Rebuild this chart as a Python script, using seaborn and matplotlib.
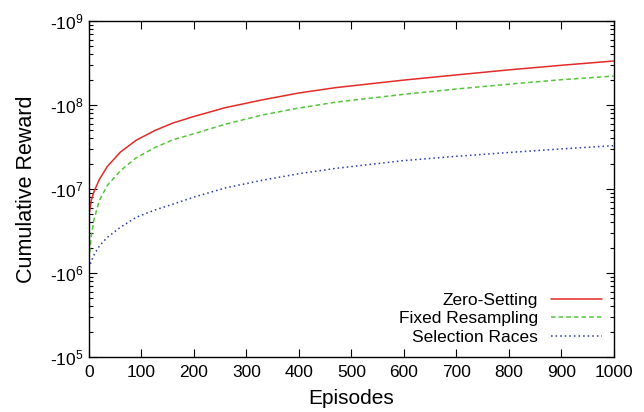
import matplotlib
matplotlib.use("Agg")
import matplotlib.pyplot as plt
import matplotlib.ticker as mticker
import numpy as np
import pandas as pd
import seaborn as sns

episodes = [0, 5, 10, 20, 35, 60, 90, 125, 160, 200, 260, 330, 400, 470, 600, 700, 800, 900, 1000]
zero_setting = [4.9e6, 7.5e6, 9.4e6, 1.3e7, 1.85e7, 2.75e7, 3.8e7, 4.95e7, 6.1e7, 7.3e7,
                9.3e7, 1.15e8, 1.39e8, 1.61e8, 1.98e8, 2.28e8, 2.62e8, 2.97e8, 3.34e8]
fixed_resampling = [1.43e6, 2.9e6, 4.4e6, 7.3e6, 1.1e7, 1.65e7, 2.35e7, 3.1e7, 3.85e7, 4.55e7,
                    5.9e7, 7.6e7, 9.2e7, 1.08e8, 1.34e8, 1.55e8, 1.77e8, 2.0e8, 2.21e8]
selection_races = [1.14e6, 1.4e6, 1.65e6, 2.1e6, 2.65e6, 3.5e6, 4.6e6, 5.6e6, 6.6e6, 8.0e6,
                   1.03e7, 1.27e7, 1.52e7, 1.76e7, 2.18e7, 2.45e7, 2.72e7, 3.0e7, 3.28e7]
series_names = ["Zero-Setting", "Fixed Resampling", "Selection Races"]

sns.set_theme(style="ticks")
plt.rcParams["font.family"] = ["Liberation Sans", "DejaVu Sans"]
plt.rcParams["mathtext.fontset"] = "custom"
plt.rcParams["mathtext.rm"] = "Liberation Sans"
plt.rcParams["mathtext.it"] = "Liberation Sans"
plt.rcParams["text.color"] = "black"
plt.rcParams["axes.labelcolor"] = "black"

# Magnitudes of the (negative) cumulative reward, drawn on a log axis
df = pd.DataFrame({
    "Episodes": episodes * 3,
    "Reward": zero_setting + fixed_resampling + selection_races,
    "Method": sum([[n] * len(episodes) for n in series_names], []),
})

palette = {"Zero-Setting": "#e32b28", "Fixed Resampling": "#55c63c", "Selection Races": "#2a3aa8"}
dashes = {"Zero-Setting": "", "Fixed Resampling": (3, 2), "Selection Races": (1, 2)}

fig = plt.figure(figsize=(6.44, 4.12), dpi=100)
ax = fig.add_axes([0.138, 0.1335, 0.815, 0.8155])

sns.lineplot(data=df, x="Episodes", y="Reward", hue="Method", style="Method",
             palette=palette, dashes=dashes, linewidth=1.1, ax=ax)

ax.set_yscale("log")
ax.set_ylim(1e5, 1e9)
ax.set_xlim(0, 1000)
ax.set_xticks(np.arange(0, 1001, 100))
ax.yaxis.set_major_locator(mticker.LogLocator(base=10, numticks=10))
ax.yaxis.set_minor_locator(mticker.LogLocator(base=10, subs=np.arange(2, 10), numticks=20))
ax.yaxis.set_major_formatter(mticker.FuncFormatter(
    lambda v, p: r"-10$^{%d}$" % int(round(np.log10(v)))))
ax.yaxis.set_minor_formatter(mticker.NullFormatter())

for s in ax.spines.values():
    s.set_visible(True)
    s.set_linewidth(1.0)
    s.set_color("black")

ax.tick_params(axis="both", which="both", direction="in", top=True, right=True,
               colors="black", labelsize=12.5)
ax.tick_params(which="major", length=6, width=0.8)
ax.tick_params(which="minor", length=3, width=0.8)
ax.tick_params(axis="x", pad=6)
ax.tick_params(axis="y", pad=4)

ax.set_xlabel("Episodes", fontsize=15, labelpad=6)
ax.set_ylabel("Cumulative Reward", fontsize=15.5, labelpad=9)

ax.legend(title=None, loc="lower right", frameon=False, markerfirst=False,
          fontsize=12.5, handlelength=2.9, labelspacing=0.19,
          borderaxespad=0.3, handletextpad=0.75)

fig.savefig("out.png", dpi=100)
